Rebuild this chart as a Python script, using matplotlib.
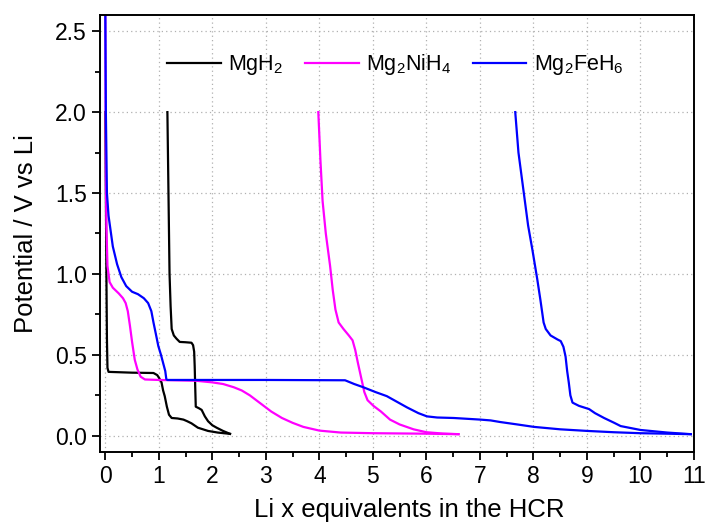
import matplotlib
matplotlib.use("Agg")
import matplotlib.pyplot as plt
from matplotlib.ticker import MultipleLocator, FormatStrFormatter

plt.rcParams["font.family"] = ["Liberation Sans", "DejaVu Sans"]
plt.rcParams["mathtext.fontset"] = "custom"
plt.rcParams["mathtext.rm"] = "Liberation Sans"
plt.rcParams["mathtext.it"] = "Liberation Sans:italic"

# MgH2 (black): first curve from x=0, second from x~1.2
mgh2_x1 = [0.0, 0.01, 0.02, 0.03, 0.04, 0.06, 0.5, 0.9, 0.97, 1.0, 1.05, 1.08, 1.11, 1.15, 1.19,
           1.24, 1.35, 1.46, 1.53, 1.61, 1.73, 1.92, 2.1, 2.33]
mgh2_v1 = [2.0, 1.5, 1.0, 0.6, 0.42, 0.395, 0.39, 0.388, 0.375, 0.36, 0.33, 0.28, 0.245, 0.18, 0.13,
           0.11, 0.107, 0.10, 0.09, 0.077, 0.05, 0.03, 0.02, 0.012]
mgh2_x2 = [1.16, 1.18, 1.2, 1.22, 1.24, 1.28, 1.33, 1.39, 1.5, 1.61, 1.64, 1.66, 1.67, 1.68, 1.69,
           1.75, 1.80, 1.86, 1.92, 2.0, 2.08, 2.2, 2.33]
mgh2_v2 = [2.0, 1.5, 1.0, 0.8, 0.66, 0.62, 0.60, 0.58, 0.578, 0.575, 0.56, 0.52, 0.43, 0.3, 0.18,
           0.17, 0.16, 0.12, 0.09, 0.065, 0.05, 0.03, 0.012]

# Mg2NiH4 (magenta)
ni_x1 = [0.0, 0.005, 0.01, 0.02, 0.04, 0.08, 0.14, 0.25, 0.33, 0.38, 0.42, 0.46, 0.5, 0.55, 0.6, 0.66,
         0.74, 1.0, 1.7, 2.0, 2.2, 2.4, 2.55, 2.7, 2.92, 3.1, 3.3, 3.5, 3.7, 4.0, 4.4, 5.0, 6.0, 6.6]
ni_v1 = [2.62, 2.0, 1.6, 1.3, 1.05, 0.95, 0.915, 0.88, 0.85, 0.82, 0.77, 0.68, 0.58, 0.47, 0.41, 0.365,
         0.348, 0.345, 0.34, 0.33, 0.32, 0.30, 0.28, 0.25, 0.195, 0.15, 0.11, 0.08, 0.055, 0.032, 0.02,
         0.016, 0.013, 0.01]
ni_x2 = [3.98, 4.02, 4.06, 4.12, 4.2, 4.25, 4.30, 4.36, 4.45, 4.55, 4.62, 4.67, 4.72, 4.78, 4.84, 4.9,
         5.01, 5.15, 5.32, 5.5, 5.76, 6.0, 6.3, 6.6]
ni_v2 = [2.0, 1.7, 1.45, 1.25, 1.05, 0.9, 0.78, 0.70, 0.66, 0.62, 0.59, 0.53, 0.45, 0.36, 0.27, 0.22,
         0.185, 0.15, 0.10, 0.07, 0.04, 0.022, 0.014, 0.01]

# Mg2FeH6 (blue)
fe_x1 = [0.0, 0.005, 0.01, 0.03, 0.06, 0.14, 0.22, 0.3, 0.39, 0.5, 0.61, 0.72, 0.8, 0.86, 0.9, 0.95,
         0.99, 1.04, 1.08, 1.12, 1.14, 1.16, 2.0, 3.0, 4.48, 4.65, 4.82, 5.05, 5.26, 5.45, 5.64, 5.85,
         6.01, 6.2, 6.51, 7.01, 7.2, 7.38, 7.7, 8.01, 8.5, 9.01, 9.5, 10.0, 10.5, 10.94]
fe_v1 = [2.62, 2.3, 2.0, 1.5, 1.36, 1.17, 1.06, 0.98, 0.925, 0.89, 0.875, 0.85, 0.82, 0.77, 0.70, 0.62,
         0.555, 0.5, 0.45, 0.40, 0.35, 0.345, 0.345, 0.345, 0.343, 0.32, 0.30, 0.27, 0.245, 0.21, 0.175,
         0.14, 0.12, 0.113, 0.11, 0.10, 0.095, 0.085, 0.07, 0.055, 0.04, 0.03, 0.022, 0.016, 0.013, 0.01]
fe_x2 = [7.66, 7.72, 7.82, 7.9, 7.98, 8.03, 8.07, 8.13, 8.19, 8.23, 8.32, 8.45, 8.51, 8.56, 8.60, 8.63,
         8.66, 8.69, 8.73, 8.85, 9.04, 9.15, 9.32, 9.51, 9.63, 10.0, 10.5, 10.94]
fe_v2 = [2.0, 1.75, 1.5, 1.3, 1.15, 1.05, 0.97, 0.84, 0.70, 0.66, 0.62, 0.595, 0.585, 0.55, 0.49, 0.40,
         0.33, 0.25, 0.205, 0.185, 0.165, 0.14, 0.11, 0.08, 0.06, 0.036, 0.02, 0.01]

fig = plt.figure(figsize=(7.07, 5.23), dpi=100)
ax = fig.add_axes([0.1414, 0.1358, 0.8402, 0.8355])

lw = 1.6
ax.plot(mgh2_x1, mgh2_v1, color="black", lw=lw, label="MgH$_2$")
ax.plot(mgh2_x2, mgh2_v2, color="black", lw=lw)
ax.plot(ni_x1, ni_v1, color="#ff00ff", lw=lw, label="Mg$_2$NiH$_4$")
ax.plot(ni_x2, ni_v2, color="#ff00ff", lw=lw)
ax.plot(fe_x1, fe_v1, color="#0000ff", lw=lw, label="Mg$_2$FeH$_6$")
ax.plot(fe_x2, fe_v2, color="#0000ff", lw=lw)

ax.set_xlim(-0.1, 11)
ax.set_ylim(-0.1, 2.6)
ax.xaxis.set_major_locator(MultipleLocator(1))
ax.xaxis.set_minor_locator(MultipleLocator(0.5))
ax.yaxis.set_major_locator(MultipleLocator(0.5))
ax.yaxis.set_minor_locator(MultipleLocator(0.25))
ax.yaxis.set_major_formatter(FormatStrFormatter("%.1f"))
ax.tick_params(which="both", direction="out", width=1.3, labelsize=16.5)
ax.tick_params(which="major", length=6)
ax.tick_params(which="minor", length=3.5)
for s in ax.spines.values():
    s.set_linewidth(1.4)
ax.grid(True, which="major", color="#b0b0b0", linestyle=(0, (1, 2.5)), lw=0.9)

ax.set_xlabel("Li x equivalents in the HCR", fontsize=18.5, labelpad=7, x=0.52)
ax.set_ylabel("Potential / V vs Li", fontsize=18.5, labelpad=12)

ax.legend(loc="center", bbox_to_anchor=(0.497, 0.886), ncol=3, frameon=False, fontsize=15.5,
          handlelength=2.5, handletextpad=0.35, columnspacing=1.0)

fig.savefig("out.png", dpi=100)
